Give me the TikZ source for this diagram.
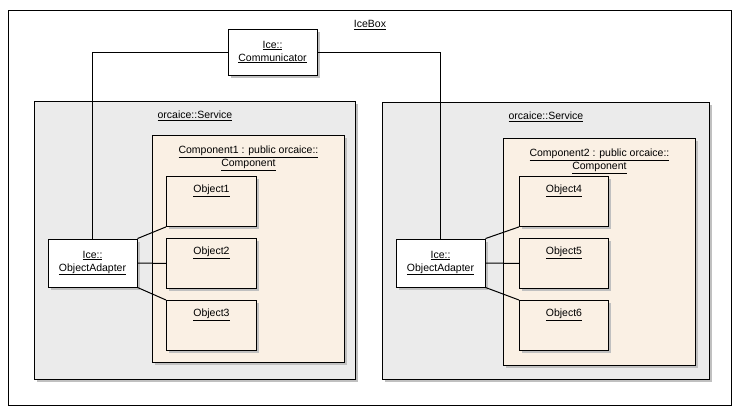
\documentclass[tikz,border=0pt]{standalone}
\usepackage{fontspec}
\setmainfont{Liberation Sans}
\usetikzlibrary{positioning,shadows}
\definecolor{svcgray}{RGB}{235,235,235}
\definecolor{compbeige}{RGB}{250,240,228}
\definecolor{shadowgray}{RGB}{192,192,192}
\newcommand\umlfont{\fontsize{10.5}{13}\selectfont}
\begin{document}
\begin{tikzpicture}[x=1pt, y=-1pt,
        umlshadow/.style={drop shadow={shadow xshift=3pt, shadow yshift=-3pt, fill=shadowgray, opacity=1}},
        frame/.style={draw, line width=0.9pt, inner sep=0pt, anchor=north west},
        service/.style={draw, line width=0.9pt, fill=svcgray, umlshadow, inner sep=0pt, anchor=north west},
        comp/.style={draw, line width=0.9pt, fill=compbeige, umlshadow, inner sep=0pt, anchor=north west},
        objbox/.style={draw, line width=0.9pt, fill=compbeige, umlshadow, inner sep=0pt, anchor=north west,
          minimum height=50pt},
        inst/.style={draw, line width=0.9pt, fill=white, umlshadow, font=\umlfont, align=center,
          minimum width=89pt, minimum height=48pt},
        title/.style={font=\umlfont, align=center, inner sep=0pt},
        link/.style={line width=1pt}
      ]
      \useasboundingbox (0,0) rectangle (743,416);
      % outer container
      \node[frame, minimum width=723pt, minimum height=395pt] (icebox) at (8,10) {};
      \node[title] (iceboxlbl) at ([yshift=-15pt]icebox.north) {\underline{IceBox}};
      % services and components
      \node[service, minimum width=321pt, minimum height=278pt] (svc1) at (34,101) {};
      \node[service, minimum width=327pt, minimum height=277pt] (svc2) at (382,102) {};
      \foreach \s in {1,2} {
        \node[title] (svc\s lbl) at ([yshift=-15pt]svc\s.north) {\underline{orcaice::Service}};
      }
      \node[comp, minimum width=192pt, minimum height=227pt] (comp1) at (152,135) {};
      \node[comp, minimum width=192pt, minimum height=227pt] (comp2) at (503,138) {};
      \foreach \c in {1,2} {
        \node[title] (comp\c lbl) at ([yshift=-23.5pt]comp\c.north)
          {\underline{Component\c\ : public orcaice::}\\\underline{Component}};
      }
      % objects
      \foreach \n/\x/\y/\w in {1/166/176/90, 2/166/238/90, 3/166/300/90,
        4/519/176/89, 5/519/238/89, 6/519/300/89} {
        \node[objbox, minimum width=\w pt] (obj\n) at (\x,\y) {};
        \node[title] (obj\n lbl) at ([yshift=-15pt]obj\n.north) {\underline{Object\n}};
      }
      % ice instances
      \node[inst, minimum height=46pt] (comm) at (272.5,52) {\underline{Ice::}\\\underline{Communicator}};
      \node[inst] (oa1) at (92.5,263) {\underline{Ice::}\\\underline{ObjectAdapter}};
      \node[inst] (oa2) at (440.5,263) {\underline{Ice::}\\\underline{ObjectAdapter}};
      % connectors
      \draw[link] (comm.west) -| (oa1.north);
      \draw[link] (comm.east) -| (oa2.north);
      \foreach \a/\p/\q/\r in {oa1/1/2/3, oa2/4/5/6} {
        \draw[link] (\a.north east) -- (obj\p.south west);
        \draw[link] (\a.east) -- (obj\q.west);
        \draw[link] (\a.south east) -- (obj\r.north west);
      }
\end{tikzpicture}
\end{document}
